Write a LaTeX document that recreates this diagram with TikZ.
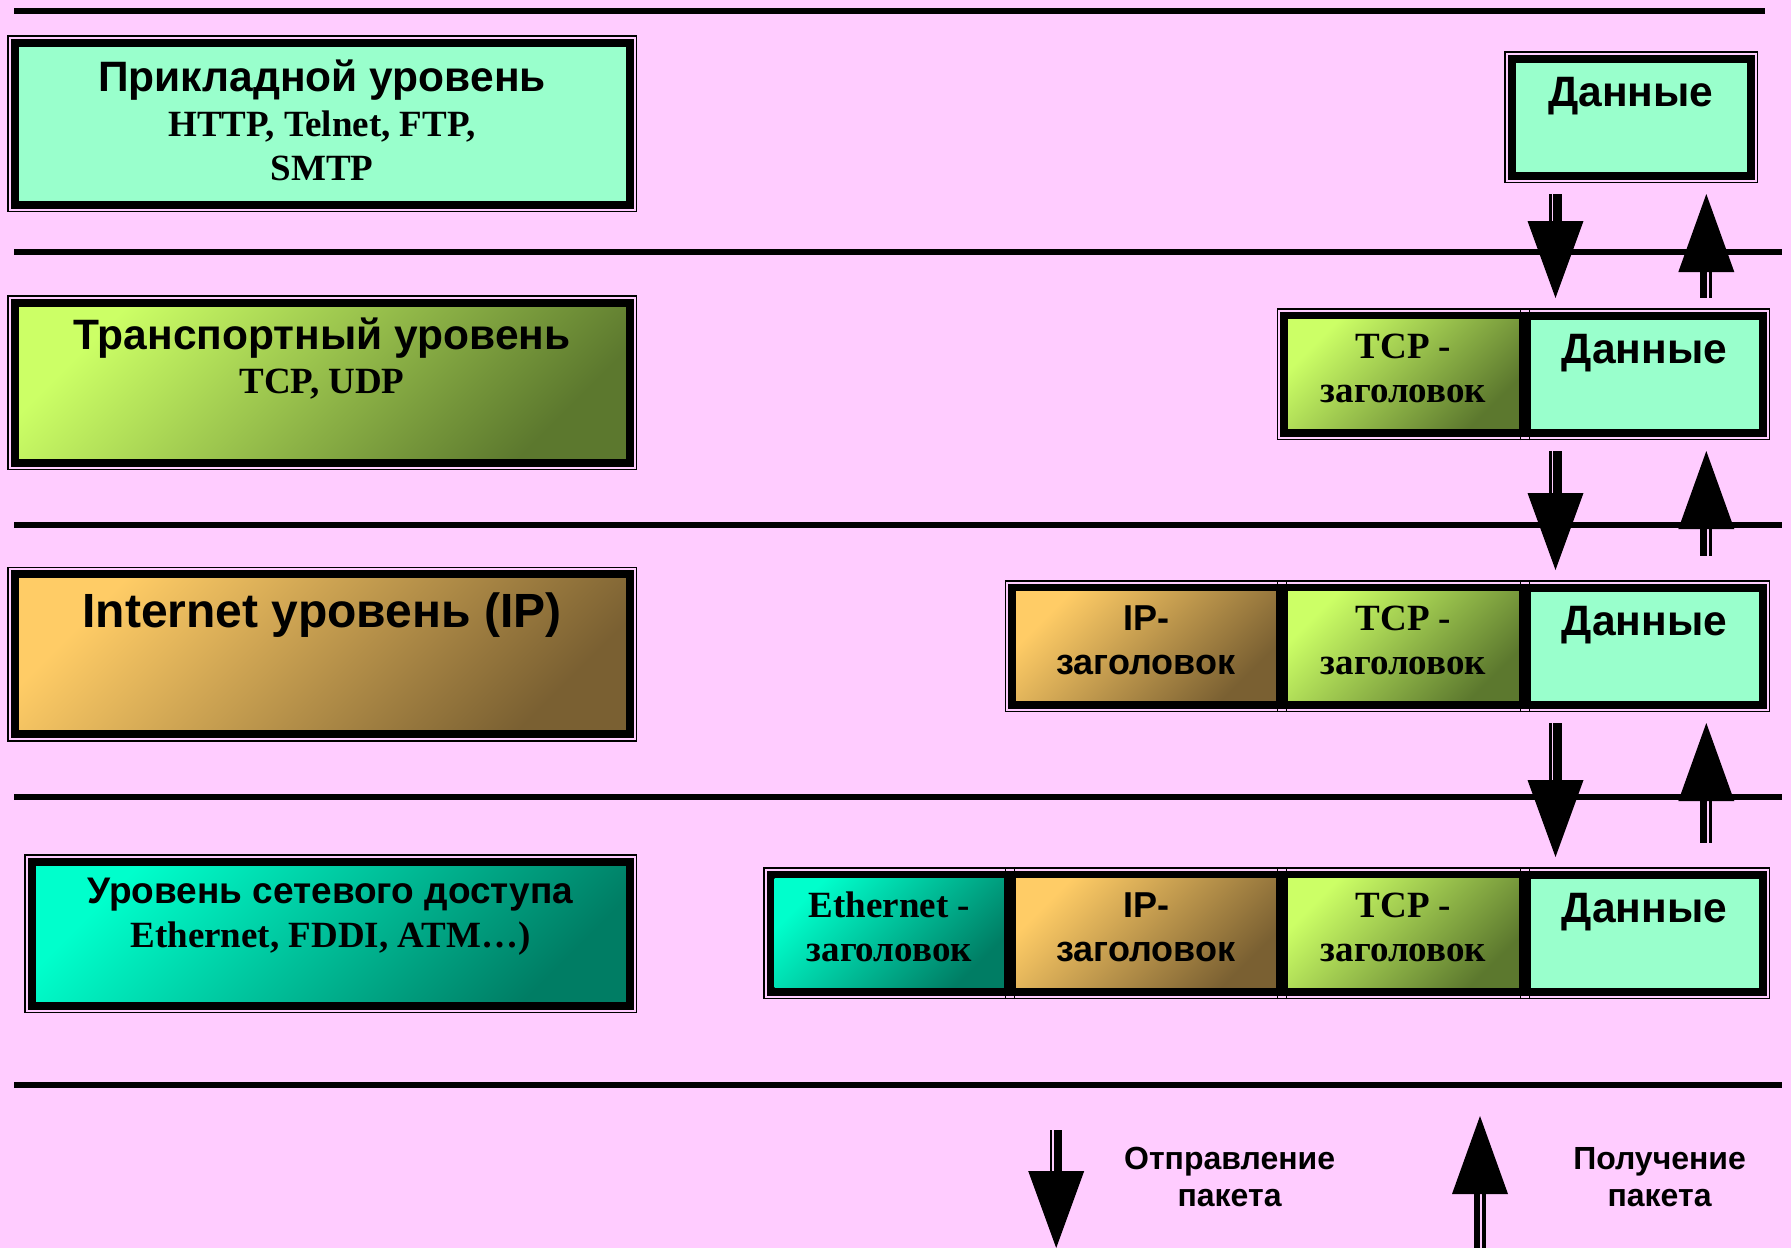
\documentclass[tikz,border=0pt]{standalone}
\usepackage{fontspec}
\setmainfont{Liberation Serif}
\newfontfamily\sansfam{Liberation Sans}
\definecolor{bgpink}{RGB}{255,204,255}
\definecolor{mint}{RGB}{153,255,204}
\definecolor{trA}{RGB}{204,255,102}
\definecolor{trB}{RGB}{92,120,46}
\definecolor{ipA}{RGB}{255,204,102}
\definecolor{ipB}{RGB}{122,96,50}
\definecolor{naA}{RGB}{0,255,204}
\definecolor{naB}{RGB}{0,125,100}
\newcommand\sendarrow[3]{% x, top, tip
  \fill[black] (#1-6.2,#2) rectangle (#1-3.8,#3-76);
  \fill[black] (#1-2.2,#2) rectangle (#1+6.2,#3-76);
  \fill[black] (#1-28,#3-77) -- (#1+28,#3-77) -- (#1,#3) -- cycle;}
\newcommand\recvarrow[3]{% x, tip, bottom
  \fill[black] (#1-28,#2+78) -- (#1+28,#2+78) -- (#1,#2) -- cycle;
  \fill[black] (#1-6.3,#2+77) rectangle (#1+0.4,#3);
  \fill[black] (#1+2.4,#2+77) rectangle (#1+6.0,#3);}
\newcommand\divbar[3]{% x, outer top, outer bottom
  \fill[black] (#1-6,#2+3.5) rectangle (#1+6,#3-3.5);
  \draw[black, line width=1.3pt] (#1-4.3,#2) -- (#1-4.3,#2+4) (#1+4.3,#2) -- (#1+4.3,#2+4)
     (#1-4.3,#3) -- (#1-4.3,#3-4) (#1+4.3,#3) -- (#1+4.3,#3-4);}
\tikzset{
  every node/.style={inner sep=0pt, outer sep=0pt},
  frm/.style={rectangle, preaction={draw=black, line width=15pt}, preaction={draw=bgpink, line width=12pt}, draw=black, line width=8pt},
  mintfill/.style={fill=mint},
  trfill/.style={top color=trA, bottom color=trB, shading angle=45},
  ipfill/.style={top color=ipA, bottom color=ipB, shading angle=45},
  nafill/.style={top color=naA, bottom color=naB, shading angle=45},
  cell/.style={rectangle, minimum height=109pt},
  ttl/.style={font=\sansfam\bfseries\fontsize{42.5}{48}\selectfont, anchor=base},
  sub/.style={font=\bfseries\fontsize{37}{42}\selectfont, anchor=base},
  sanshd/.style={font=\sansfam\bfseries\fontsize{36}{42}\selectfont, anchor=base},
  legend/.style={font=\sansfam\bfseries\fontsize{32}{36}\selectfont, anchor=base},
  sep/.style={line width=6pt, black}
}
\begin{document}
\begin{tikzpicture}[x=1pt, y=-1pt]
\fill[bgpink] (0,0) rectangle (1791,1248);
\useasboundingbox (0,0) rectangle (1791,1248);

% separator lines
\draw[sep] (14,11.4) -- (1765,11.4);
\draw[sep] (14,252.4) -- (1782,252.4);
\draw[sep] (14,525.4) -- (1782,525.4);
\draw[sep] (14,797.3) -- (1782,797.3);
\draw[sep] (14,1084.5) -- (1782,1084.5);

% left layer boxes
\node[frm, mintfill, minimum width=615pt, minimum height=162pt] (app) at (322,123.5) {};
\node[ttl] (appT) at (322,91.4) {Прикладной уровень};
\node[sub] (appP1) at (322,136) {HTTP, Telnet, FTP,};
\node[sub] (appP2) at (322,180.5) {SMTP};

\node[frm, trfill, minimum width=615pt, minimum height=160pt] (trans) at (322,382.5) {};
\node[ttl] (transT) at (322,349.5) {Транспортный уровень};
\node[sub] (transP) at (322,393) {TCP, UDP};

\node[frm, ipfill, minimum width=615pt, minimum height=160pt] (inet) at (322,654) {};
\node[ttl, font=\sansfam\bfseries\fontsize{48}{52}\selectfont] (inetT) at (322,627) {Internet уровень (IP)};

\node[frm, nafill, minimum width=598pt, minimum height=144pt] (netacc) at (330.5,933.5) {};
\node[ttl, font=\sansfam\bfseries\fontsize{37}{42}\selectfont] (netaccT) at (330.5,903.5) {Уровень сетевого доступа};
\node[sub] (netaccP) at (330.5,947) {Ethernet, FDDI, ATM\ldots)};

% level 1 packet
\node[frm, mintfill, minimum width=239pt, minimum height=117pt] (d1) at (1631,117) {};
\node[ttl] (d1T) at (1631,106) {Данные};

% level 2 packet
\node[frm, minimum width=478.5pt, minimum height=117pt] (p2) at (1523.25,374) {};
\node[cell, trfill, minimum width=231pt] (tcp2) at (1403.5,374) {};
\node[cell, mintfill, minimum width=227.5pt] (d2) at (1644.75,374) {};
\divbar{1525}{308}{440}
\node[ttl] (d2T) at (1644.5,363) {Данные};
\node[sub] (tcp2a) at (1403.5,358.6) {TCP -};
\node[sub] (tcp2b) at (1403.5,402) {заголовок};

% level 3 packet
\node[frm, minimum width=750.5pt, minimum height=117pt] (p3) at (1387.25,646) {};
\node[cell, ipfill, minimum width=260pt] (ip3) at (1146,646) {};
\node[cell, trfill, minimum width=231pt] (tcp3) at (1403.5,646) {};
\node[cell, mintfill, minimum width=227.5pt] (d3) at (1644.75,646) {};
\divbar{1282}{580}{712}
\divbar{1525}{580}{712}
\node[ttl] (d3T) at (1644.5,635) {Данные};
\node[sub] (tcp3a) at (1403.5,630.6) {TCP -};
\node[sub] (tcp3b) at (1403.5,674) {заголовок};
\node[sanshd] (ip3a) at (1146,630.6) {IP-};
\node[sanshd] (ip3b) at (1146,674) {заголовок};

% level 4 packet
\node[frm, minimum width=992pt, minimum height=117pt] (p4) at (1266.5,933) {};
\node[cell, nafill, minimum width=229.5pt] (eth4) at (889.25,933) {};
\node[cell, ipfill, minimum width=260pt] (ip4) at (1146,933) {};
\node[cell, trfill, minimum width=231pt] (tcp4) at (1403.5,933) {};
\node[cell, mintfill, minimum width=227.5pt] (d4) at (1644.75,933) {};
\divbar{1010}{867}{999}
\divbar{1282}{867}{999}
\divbar{1525}{867}{999}
\node[ttl] (d4T) at (1644.5,922) {Данные};
\node[sub] (tcp4a) at (1403.5,917.6) {TCP -};
\node[sub] (tcp4b) at (1403.5,961) {заголовок};
\node[sanshd] (ip4a) at (1146,917.6) {IP-};
\node[sanshd] (ip4b) at (1146,961) {заголовок};
\node[sub] (eth4a) at (889.25,917.6) {Ethernet -};
\node[sub] (eth4b) at (889.25,961) {заголовок};

% arrows between levels
\sendarrow{1555.5}{194}{298}
\recvarrow{1706.3}{194}{298}
\sendarrow{1555.5}{451}{570}
\recvarrow{1706.3}{451}{556}
\sendarrow{1555.5}{723}{857}
\recvarrow{1706.3}{723}{843}

% legend
\sendarrow{1056.2}{1130}{1248}
\recvarrow{1480}{1116}{1248}
\node[legend] (sendA) at (1229.6,1169) {Отправление};
\node[legend] (sendB) at (1229.6,1206) {пакета};
\node[legend] (recvA) at (1659.6,1169) {Получение};
\node[legend] (recvB) at (1659.6,1206) {пакета};
\end{tikzpicture}
\end{document}
